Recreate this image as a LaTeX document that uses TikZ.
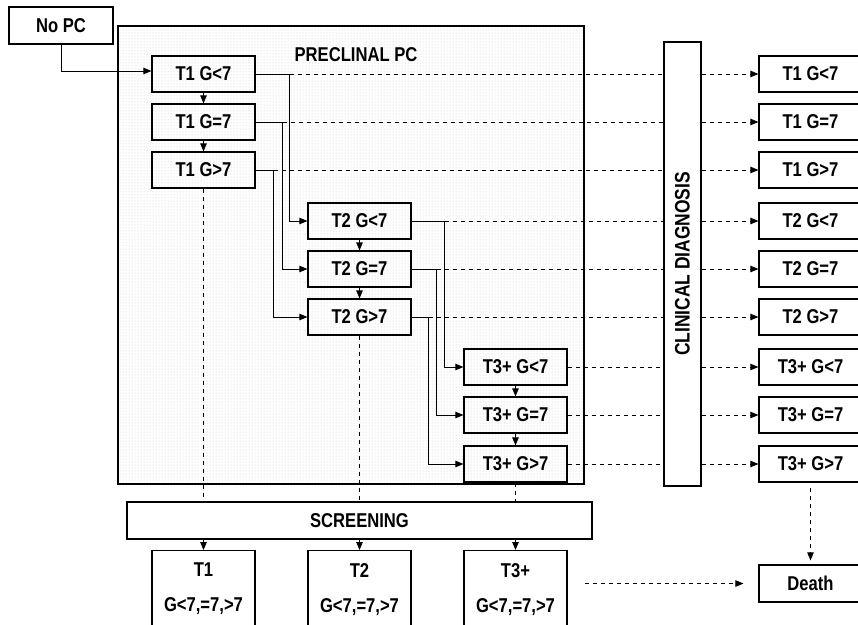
\documentclass[tikz,border=0pt]{standalone}
\usepackage{fontspec}
\setmainfont{Liberation Sans}[FakeStretch=0.83]
\usetikzlibrary{arrows.meta,patterns}

\begin{document}
\begin{tikzpicture}[x=1pt,y=-1pt,line width=0.9pt,
  >={Triangle[length=8pt,width=6.5pt]},
  box/.style={draw,line width=1.2pt,minimum width=103pt,minimum height=36pt,
    inner sep=0pt,font=\bfseries\fontsize{20}{22}\selectfont},
  dashline/.style={line width=0.8pt,dash pattern=on 4.5pt off 3.5pt}]
\useasboundingbox (0,0) rectangle (858,624);

% preclinical area
\path[pattern=dots,pattern color=gray!45] (118,26) rectangle (584,484);
\draw[line width=1.2pt] (118,26) rectangle (584,484);
\node[font=\bfseries\fontsize{20}{22}\selectfont] (pre) at (356,55) {PRECLINAL PC};

\node[box,minimum width=104pt,minimum height=37pt] (nopc) at (61,25.5) {No PC};

\node[box] (t1a) at (203.5,74) {T1 G<7};
\node[box] (t1b) at (203.5,122) {T1 G=7};
\node[box] (t1c) at (203.5,170) {T1 G>7};
\node[box] (t2a) at (359.5,221) {T2 G<7};
\node[box] (t2b) at (359.5,269) {T2 G=7};
\node[box] (t2c) at (359.5,317) {T2 G>7};
\node[box] (t3a) at (515.5,367) {T3+ G<7};
\node[box] (t3b) at (515.5,415) {T3+ G=7};
\node[box] (t3c) at (515.5,464) {T3+ G>7};

\node[box,rotate=90,minimum width=444pt,minimum height=37pt,
  font=\bfseries\fontsize{21}{22}\selectfont] (cd) at (682.5,264) {CLINICAL DIAGNOSIS};

% diagnosed stages
\foreach \n/\y/\t in {1/74/T1 G<7,2/122/T1 G=7,3/170/T1 G>7,
    4/221/T2 G<7,5/269/T2 G=7,6/317/T2 G>7,
    7/367/T3+ G<7,8/415/T3+ G=7,9/464/T3+ G>7}
  \node[box] (r\n) at (810.5,\y) {\t};
\node[box,minimum height=37pt] (death) at (810.5,583.5) {Death};

\node[box,minimum width=465pt,minimum height=37pt] (scr) at (359.5,520.5) {SCREENING};
\node[box,anchor=north,minimum height=77pt,align=center] (s1) at (203.5,550) {T1\\[13pt]G<7,=7,>7};
\node[box,anchor=north,minimum height=77pt,align=center] (s2) at (359.5,550) {T2\\[13pt]G<7,=7,>7};
\node[box,anchor=north,minimum height=77pt,align=center] (s3) at (515.5,550) {T3+\\[13pt]G<7,=7,>7};

% progression
\draw[->] (nopc.south) |- ([yshift=3pt]t1a.west);
\foreach \a/\b in {t1a/t1b,t1b/t1c,t2a/t2b,t2b/t2c,t3a/t3b,t3b/t3c}
  \draw[->] (\a) -- (\b);
\foreach \a/\b/\d in {t1a/t2a/34,t1b/t2b/27,t1c/t2c/18,t2a/t3a/33,t2b/t3b/25,t2c/t3c/17} {
  \draw[->] (\a.east) -- ++(\d,0) |- (\b.west);
  \draw[dashline] (\a.east) ++(\d,0) -- (cd.north |- \a.east);
}
\foreach \a in {t3a,t3b,t3c}
  \draw[dashline] (\a.east) -- (cd.north |- \a.east);

% clinical diagnosis
\foreach \n in {1,...,9}
  \draw[dashline,->] (cd.south |- r\n.west) -- (r\n.west);
\draw[dashline,->,shorten <=5pt,shorten >=4pt] (r9) -- (death);

% screening
\foreach \a in {t1c,t2c,t3c}
  \draw[dashline] (\a.south) -- (\a.south |- scr.north);
\foreach \s in {s1,s2,s3}
  \draw[->] (\s.north |- scr.south) -- (\s.north);
\draw[dashline,->,shorten <=17pt,shorten >=15pt] (s3.east |- death.west) -- (death.west);
\end{tikzpicture}
\end{document}
